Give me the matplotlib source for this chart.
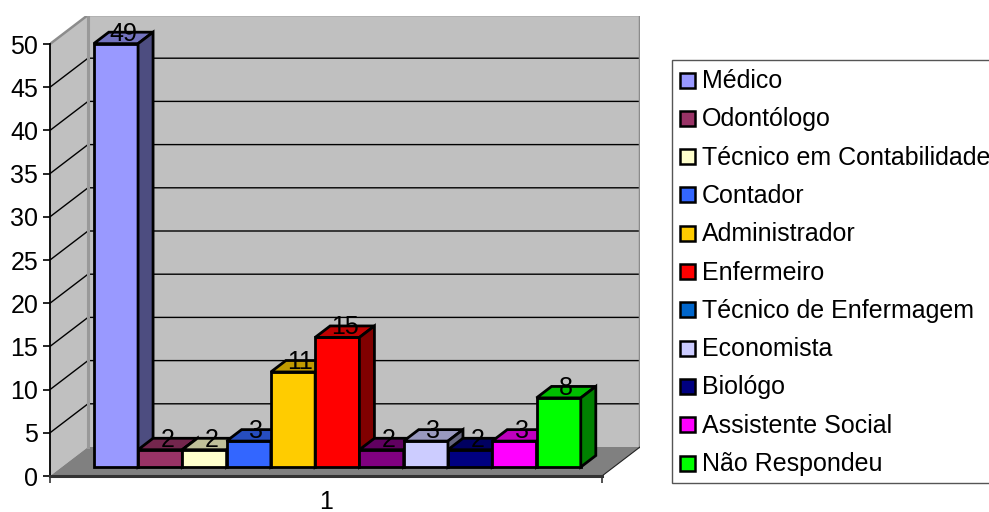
import matplotlib
matplotlib.use("Agg")
import matplotlib.pyplot as plt
from matplotlib.patches import Polygon, Rectangle
import numpy as np

# ---- data -------------------------------------------------------------
categories = ["Médico", "Odontólogo", "Técnico em Contabilidade", "Contador",
              "Administrador", "Enfermeiro", "Técnico de Enfermagem",
              "Economista", "Biológo", "Assistente Social", "Não Respondeu"]
values = [49, 2, 2, 3, 11, 15, 2, 3, 2, 3, 8]
bar_colors = ["#9999FF", "#993366", "#FFFFCC", "#3366FF", "#FFCC00", "#FF0000",
              "#800080", "#CCCCFF", "#000080", "#FF00FF", "#00FF00"]
legend_colors = ["#9999FF", "#993366", "#FFFFCC", "#3366FF", "#FFCC00", "#FF0000",
                 "#0066CC", "#CCCCFF", "#000080", "#FF00FF", "#00FF00"]
y_ticks = [0, 5, 10, 15, 20, 25, 30, 35, 40, 45, 50]
x_label = "1"

# ---- layout -----------------------------------------------------------
W, H = 989, 512
FONT = "Liberation Sans"
FS = 18
plt.rcParams["font.family"] = [FONT, "DejaVu Sans"]

PX_PER_UNIT = 8.64          # vertical pixels per value unit
FLOOR_W = 552               # width of the front edge of the floor (px)
DEPTH_X = 38                # depth offset of the 3-D box (px)
DEPTH_Y = 29 / PX_PER_UNIT  # depth offset in value units
TOP = max(y_ticks)
XR = FLOOR_W + DEPTH_X
GROUP_LEFT = 32
GROUP_W = 487
BAR_FRONT, BAR_BACK = 0.31, 0.705

fig = plt.figure(figsize=(W / 100, H / 100), dpi=100)
fig.patch.set_facecolor("white")
ax = fig.add_axes([50 / W, 36 / H, XR / W, 460 / H])
ax.set_xlim(0, XR)
ax.set_ylim(0, 460 / PX_PER_UNIT)
ax.patch.set_visible(False)

wall = "#C0C0C0"
# side wall, back wall, floor
ax.add_patch(Polygon([(0, 0), (DEPTH_X, DEPTH_Y), (DEPTH_X, TOP + DEPTH_Y), (0, TOP)],
                     closed=True, facecolor=wall, edgecolor="none", zorder=1))
ax.add_patch(Polygon([(DEPTH_X, DEPTH_Y), (XR, DEPTH_Y), (XR, TOP + DEPTH_Y),
                      (DEPTH_X, TOP + DEPTH_Y)],
                     closed=True, facecolor=wall, edgecolor="none", zorder=1))
ax.add_patch(Polygon([(0, 0), (FLOOR_W, 0), (XR, DEPTH_Y), (DEPTH_X, DEPTH_Y)],
                     closed=True, facecolor="#808080", edgecolor="none", zorder=1))

# gridlines on the walls
for v in y_ticks[1:-1]:
    ax.plot([0, DEPTH_X, XR], [v, v + DEPTH_Y, v + DEPTH_Y],
            color="black", lw=1.0, zorder=2, solid_capstyle="butt")

# wall borders
ax.plot([0, DEPTH_X, XR, XR], [TOP, TOP + DEPTH_Y, TOP + DEPTH_Y, DEPTH_Y],
        color="#8C8C8C", lw=1.8, zorder=2)
ax.plot([DEPTH_X, DEPTH_X], [DEPTH_Y, TOP + DEPTH_Y], color="#999999", lw=2.2, zorder=2)
ax.plot([FLOOR_W, XR], [0, DEPTH_Y], color="#222222", lw=0.8, zorder=2)


def shade(c, f):
    r, g, b = matplotlib.colors.to_rgb(c)
    return (r * f, g * f, b * f)


# bars
n = len(values)
w = GROUP_W / n
ddx = (BAR_BACK - BAR_FRONT) * DEPTH_X
ddy = (BAR_BACK - BAR_FRONT) * DEPTH_Y
for i, (v, c) in enumerate(zip(values, bar_colors)):
    xs = GROUP_LEFT + i * w + BAR_FRONT * DEPTH_X
    ys = BAR_FRONT * DEPTH_Y
    z = 3 + i * 0.01
    kw = dict(closed=True, edgecolor="black", lw=2.0, joinstyle="miter", zorder=z)
    ax.add_patch(Polygon([(xs, ys), (xs + w, ys), (xs + w, ys + v), (xs, ys + v)],
                         facecolor=c, **kw))
    ax.add_patch(Polygon([(xs, ys + v), (xs + w, ys + v), (xs + w + ddx, ys + v + ddy),
                          (xs + ddx, ys + v + ddy)], facecolor=shade(c, 0.75), **kw))
    ax.add_patch(Polygon([(xs + w, ys), (xs + w + ddx, ys + ddy),
                          (xs + w + ddx, ys + v + ddy), (xs + w, ys + v)],
                         facecolor=shade(c, 0.5), **kw))
    ax.text(xs + w / 2 + ddx / 2, ys + v + 3 / PX_PER_UNIT, str(v),
            ha="center", va="baseline", fontsize=FS, color="black", zorder=10)

# axes
for s in ("top", "right"):
    ax.spines[s].set_visible(False)
ax.spines["left"].set_bounds(0, TOP)
ax.spines["left"].set_linewidth(1.3)
ax.spines["left"].set_zorder(5)
ax.spines["bottom"].set_bounds(0, FLOOR_W)
ax.spines["bottom"].set_linewidth(2.2)
ax.spines["bottom"].set_color("#333333")
ax.spines["bottom"].set_zorder(5)

ax.set_yticks(y_ticks)
ax.set_yticklabels([str(t) for t in y_ticks], fontsize=FS)
ax.tick_params(axis="y", length=5, width=1.2, pad=3.5, direction="out")

ax.set_xticks([0, FLOOR_W])
ax.set_xticklabels(["", ""])
ax.set_xticks([FLOOR_W / 2], minor=True)
ax.set_xticklabels([x_label], minor=True, fontsize=FS)
ax.tick_params(axis="x", which="major", length=5, width=1.2, direction="out",
               color="#333333")
ax.tick_params(axis="x", which="minor", length=0, pad=10.0)

# legend drawn in pixel space
lg = fig.add_axes([0, 0, 1, 1])
lg.set_xlim(0, W)
lg.set_ylim(H, 0)
lg.axis("off")
lg.patch.set_visible(False)
lg.add_patch(Rectangle((672, 60), 340, 423, facecolor="white", edgecolor="#555555",
                       lw=1.0))
for i, (name, c) in enumerate(zip(categories, legend_colors)):
    yc = 80 + i * 38.3
    lg.add_patch(Rectangle((680, yc - 7.5), 15, 15, facecolor=c, edgecolor="black",
                           lw=1.8))
    lg.text(702, yc + 8, name, ha="left", va="baseline", fontsize=FS, color="black")

fig.savefig("out.png", dpi=100, facecolor="white")
